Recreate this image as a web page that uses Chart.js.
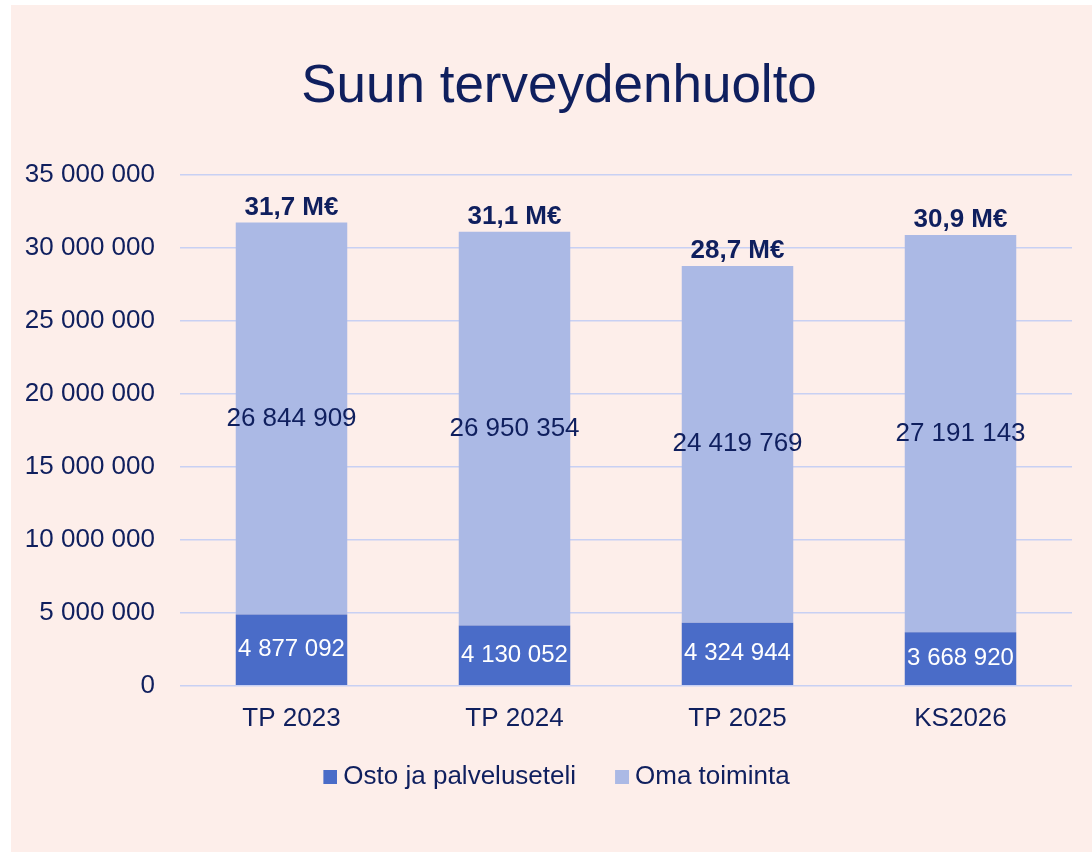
<!DOCTYPE html>
<html>
<head>
<meta charset="utf-8">
<script src="https://cdn.jsdelivr.net/npm/chart.js@4.4.1/dist/chart.umd.min.js"></script>
<style>
  body { margin: 0; background: #ffffff; }
  #panel {
    position: absolute;
    left: 11px;
    top: 5px;
    width: 1081px;
    height: 847px;
    background: #fdeeea;
  }
</style>
</head>
<body>
<div id="panel">
  <canvas id="chart" width="1081" height="847"></canvas>
</div>
<script>
const categories = ["TP 2023", "TP 2024", "TP 2025", "KS2026"];
const ostoValues = [4877092, 4130052, 4324944, 3668920];
const omaValues = [26844909, 26950354, 24419769, 27191143];
const seriesNames = ["Osto ja palveluseteli", "Oma toiminta"];

const navy = "#0f1f5e";
const darkBlue = "#4a6cc8";
const lightBlue = "#abb9e5";
const fontName = '"Liberation Sans", Arial, sans-serif';

// 12 345 678 style numbers
function fmt(n) {
    return String(n).replace(/\B(?=(\d{3})+(?!\d))/g, " ");
}

function totalLabel(i) {
    const total = ostoValues[i] + omaValues[i];
    return (total / 1000000).toFixed(1).replace(".", ",") + " M€";
}

// legend swatch: square on the right side of a small canvas
function makeSwatch(color) {
    const c = document.createElement("canvas");
    c.width = 39;
    c.height = 14;
    const g = c.getContext("2d");
    g.fillStyle = color;
    g.fillRect(25, 0, 14, 14);
    return c;
}

// value labels inside the bars and totals above them
const barLabels = {
    id: "barLabels",
    afterLayout(chart) {
        // title sits a bit right of the canvas centre in the original
        chart.titleBlock.left += 23;
    },
    afterDatasetsDraw(chart) {
        const ctx = chart.ctx;
        ctx.save();
        ctx.textAlign = "center";
        ctx.textBaseline = "middle";

        chart.data.datasets.forEach((ds, di) => {
            chart.getDatasetMeta(di).data.forEach((bar, i) => {
                ctx.font = (di === 0 ? "24px " : "26px ") + fontName;
                ctx.fillStyle = di === 0 ? "#ffffff" : navy;
                ctx.fillText(fmt(ds.data[i]), bar.x, (bar.y + bar.base) / 2);
            });
        });

        ctx.font = "bold 26px " + fontName;
        ctx.fillStyle = navy;
        chart.getDatasetMeta(1).data.forEach((bar, i) => {
            ctx.fillText(totalLabel(i), bar.x, bar.y - 15);
        });

        ctx.restore();
    }
};

const ctx = document.getElementById("chart").getContext("2d");

new Chart(ctx, {
    type: "bar",
    data: {
        labels: categories,
        datasets: [
            {
                label: seriesNames[0],
                data: ostoValues,
                backgroundColor: darkBlue
            },
            {
                label: seriesNames[1],
                data: omaValues,
                backgroundColor: lightBlue
            }
        ]
    },
    options: {
        responsive: false,
        animation: false,
        devicePixelRatio: 1,
        layout: {
            padding: { left: 12, right: 20, top: 0, bottom: 52 }
        },
        datasets: {
            bar: {
                barPercentage: 0.5,
                categoryPercentage: 1.0
            }
        },
        scales: {
            x: {
                stacked: true,
                grid: { display: false },
                border: { display: false },
                ticks: {
                    color: navy,
                    padding: 9,
                    font: { family: fontName, size: 26 }
                }
            },
            y: {
                stacked: true,
                min: 0,
                max: 35000000,
                border: { display: false },
                grid: {
                    color: "#c8d0f3",
                    lineWidth: 1.5,
                    drawTicks: false
                },
                ticks: {
                    stepSize: 5000000,
                    color: navy,
                    padding: 25,
                    font: { family: fontName, size: 26 },
                    callback: v => fmt(v)
                },
                // fixed axis width so the plot starts where the reference does
                afterFit(scale) {
                    scale.width = 157;
                }
            }
        },
        plugins: {
            title: {
                display: true,
                text: "Suun terveydenhuolto",
                color: navy,
                font: { family: fontName, size: 53, weight: "normal" },
                padding: { top: 51, bottom: 55 }
            },
            legend: {
                position: "bottom",
                labels: {
                    color: navy,
                    font: { family: fontName, size: 26 },
                    usePointStyle: true,
                    pointStyleWidth: 25,
                    padding: 21,
                    generateLabels(chart) {
                        const items =
                            Chart.defaults.plugins.legend.labels.generateLabels(chart);
                        items.forEach(item => {
                            item.pointStyle = makeSwatch(item.fillStyle);
                        });
                        return items;
                    }
                }
            },
            tooltip: { enabled: false }
        }
    },
    plugins: [barLabels]
});
</script>
</body>
</html>
